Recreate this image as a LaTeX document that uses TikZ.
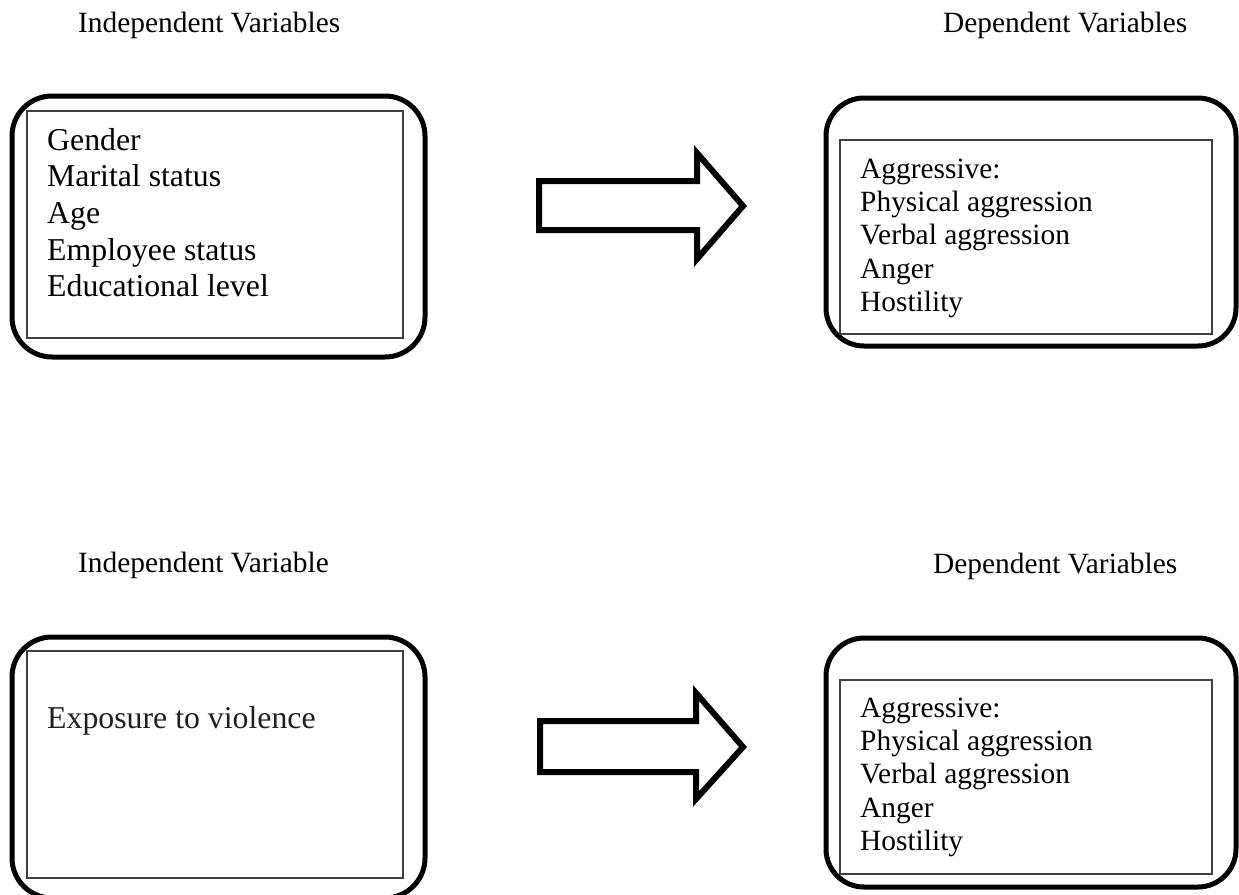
\documentclass[tikz,border=0pt]{standalone}
\usepackage{fontspec}
\setmainfont{Liberation Serif}
\begin{document}
\begin{tikzpicture}[x=1pt,y=-1pt,
  outerbox/.style={line width=5pt,rounded corners=40pt},
  innerbox/.style={line width=1.2pt,draw=black!75},
  blockarrow/.style={line width=6pt,line join=miter},
  heading/.style={anchor=base west,inner sep=0pt,font=\fontsize{29.4}{34}\selectfont},
  bigtext/.style={anchor=base west,inner sep=0pt,font=\fontsize{31.8}{36.7}\selectfont},
  smalltext/.style={anchor=base west,inner sep=0pt,font=\fontsize{29.4}{33.4}\selectfont}]
\useasboundingbox (0,0) rectangle (1239,894);
% headings
\node[heading] (h1) at (78,32) {Independent Variables};
\node[heading] (h2) at (943,32) {Dependent Variables};
\node[heading] (h3) at (78,572) {Independent Variable};
\node[heading] (h4) at (933,573) {Dependent Variables};
% top-left box
\draw[outerbox] (12,96) rectangle (425,357);
\draw[innerbox] (27,111) rectangle (403,338);
\node[bigtext] (t1) at (47,150) {\begin{tabular}[t]{@{}l@{}}Gender\\Marital status\\Age\\Employee status\\Educational level\end{tabular}};
% top-right box
\draw[outerbox,rounded corners=38pt] (826,98) rectangle (1236,346);
\draw[innerbox] (840,140) rectangle (1212,334);
\node[smalltext] (t2) at (860,178) {\begin{tabular}[t]{@{}l@{}}Aggressive:\\Physical aggression\\Verbal aggression\\Anger\\Hostility\end{tabular}};
% bottom-left box
\draw[outerbox] (12,637) rectangle (425,898);
\draw[innerbox] (27,651) rectangle (403,878);
\node[bigtext,text=black!88] (t3) at (47,728) {Exposure to violence};
% bottom-right box
\draw[outerbox,rounded corners=38pt] (826,638) rectangle (1236,887);
\draw[innerbox] (840,680) rectangle (1212,874);
\node[smalltext] (t4) at (860,717) {\begin{tabular}[t]{@{}l@{}}Aggressive:\\Physical aggression\\Verbal aggression\\Anger\\Hostility\end{tabular}};
% block arrows
\draw[blockarrow] (539,181) -- (697,181) -- (697,153) -- (743,206) -- (697,259) -- (697,230) -- (539,230) -- cycle;
\draw[blockarrow] (540,721) -- (696,721) -- (696,693) -- (743,747) -- (696,799) -- (696,772) -- (540,772) -- cycle;
\end{tikzpicture}
\end{document}
